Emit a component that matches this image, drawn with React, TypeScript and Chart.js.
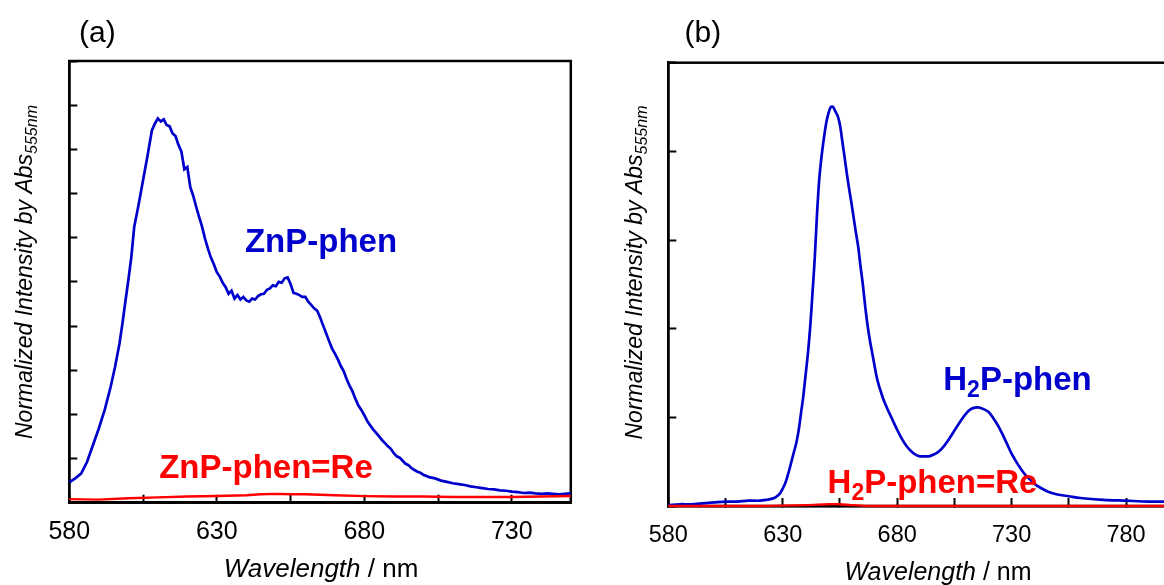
import React, { useEffect, useRef } from 'react';
import { Chart, registerables } from 'chart.js';

Chart.register(...registerables);

const FAMILY = '"Liberation Sans", Arial, Helvetica, sans-serif';
const BLUE = '#0000CC';
const RED = '#FF0000';

// ---------- Panel (a): ZnP-phen ----------
const znpWavelengths = [
  580, 582, 584, 586, 588, 590, 592, 594, 595.5, 597,
  598, 599, 600, 601, 602, 603.5, 605, 606.5, 608, 609,
  610, 611, 612, 613, 614, 615, 616, 617, 618, 619,
  620, 621, 622, 623, 624, 625, 626, 627, 628, 629,
  630, 631, 632, 633, 634, 635, 636, 637, 638, 639,
  640, 641, 642, 643, 644, 645, 646, 647, 648, 649,
  650, 651, 652, 653, 654, 655, 656, 657, 658, 659,
  660, 661, 662, 663, 664, 665, 666, 667, 668, 669,
  670, 671, 672, 673, 674, 675, 676, 677, 678, 679,
  680, 681, 682, 683, 684, 685, 686, 687, 688, 689,
  690, 691, 692, 693, 694, 695, 696, 697, 698, 699,
  700, 702, 704, 706, 708, 710, 712, 714, 716, 718,
  720, 722, 724, 726, 728, 730, 732, 734, 736, 738,
  740, 742, 744, 746, 748, 750,
];
const znpPhen = [
  0.46, 0.55, 0.66, 0.92, 1.30, 1.68, 2.10, 2.62, 3.07, 3.60,
  4.05, 4.55, 5.03, 5.55, 6.24, 6.75, 7.30, 7.85, 8.43, 8.58,
  8.70, 8.63, 8.68, 8.55, 8.52, 8.36, 8.30, 8.10, 7.95, 7.55,
  7.60, 7.15, 6.95, 6.70, 6.47, 6.25, 5.98, 5.75, 5.55, 5.40,
  5.22, 5.12, 4.98, 4.88, 4.73, 4.80, 4.62, 4.70, 4.60, 4.66,
  4.58, 4.55, 4.62, 4.60, 4.68, 4.72, 4.73, 4.82, 4.85, 4.92,
  4.90, 5.00, 4.98, 5.08, 5.10, 4.95, 4.75, 4.73, 4.70, 4.66,
  4.66, 4.55, 4.48, 4.40, 4.35, 4.20, 4.02, 3.85, 3.67, 3.50,
  3.38, 3.25, 3.10, 2.98, 2.80, 2.65, 2.52, 2.35, 2.20, 2.10,
  1.98, 1.85, 1.75, 1.66, 1.58, 1.50, 1.42, 1.35, 1.28, 1.22,
  1.12, 1.05, 1.02, 0.95, 0.88, 0.85, 0.78, 0.74, 0.70, 0.68,
  0.63, 0.58, 0.55, 0.50, 0.47, 0.44, 0.42, 0.40, 0.37, 0.35,
  0.33, 0.31, 0.30, 0.28, 0.27, 0.25, 0.24, 0.22, 0.23, 0.21,
  0.20, 0.21, 0.20, 0.19, 0.20, 0.21,
];
const znpReWavelengths = [580, 590, 600, 610, 620, 630, 640, 645, 650, 655, 660, 670, 680, 690, 700, 710, 720, 730, 740, 750];
const znpPhenRe = [0.08, 0.07, 0.10, 0.12, 0.14, 0.15, 0.17, 0.19, 0.20, 0.19, 0.19, 0.17, 0.15, 0.14, 0.14, 0.13, 0.13, 0.13, 0.14, 0.15];
const xTicksA = [580, 605, 630, 655, 680, 705, 730];

// ---------- Panel (b): H2P-phen ----------
const h2pWavelengths = [
  580, 585, 590, 595, 600, 605, 610, 615, 620, 623,
  625, 627, 629, 631, 632, 633, 634, 635, 636, 637,
  638, 639, 640, 641, 642, 643, 644, 645, 646, 647,
  648, 649, 650, 651, 652, 653, 654, 655, 656, 657,
  658, 659, 660, 661, 662, 663, 664, 665, 666, 667,
  668, 669, 670, 671, 672, 673, 674, 676, 678, 680,
  682, 684, 686, 688, 690, 692, 694, 696, 698, 700,
  702, 704, 706, 708, 710, 712, 714, 716, 718, 720,
  722, 724, 726, 728, 730, 732, 734, 736, 738, 740,
  743, 746, 750, 755, 760, 770, 780, 790, 800,
];
const h2pPhen = [
  0.01, 0.02, 0.02, 0.03, 0.04, 0.05, 0.05, 0.06, 0.06, 0.07,
  0.08, 0.10, 0.15, 0.25, 0.33, 0.42, 0.52, 0.62, 0.72, 0.86,
  1.05, 1.24, 1.48, 1.72, 2.02, 2.40, 2.80, 3.30, 3.70, 3.95,
  4.15, 4.32, 4.43, 4.50, 4.50, 4.45, 4.40, 4.30, 4.12, 3.94,
  3.75, 3.58, 3.42, 3.25, 3.08, 2.92, 2.70, 2.50, 2.26, 2.05,
  1.88, 1.74, 1.60, 1.46, 1.36, 1.28, 1.20, 1.08, 0.97, 0.86,
  0.76, 0.68, 0.62, 0.58, 0.56, 0.56, 0.56, 0.58, 0.61, 0.66,
  0.73, 0.81, 0.89, 0.97, 1.04, 1.09, 1.11, 1.11, 1.09, 1.06,
  0.99, 0.91, 0.81, 0.70, 0.59, 0.50, 0.42, 0.35, 0.30, 0.25,
  0.20, 0.16, 0.13, 0.11, 0.09, 0.07, 0.06, 0.05, 0.05,
];
const h2pReWavelengths = [580, 620, 640, 650, 655, 660, 670, 700, 800];
const h2pPhenRe = [0, 0, 0.01, 0.02, 0.02, 0.01, 0, 0, 0];
const xTicksB = [580, 605, 630, 655, 680, 705, 730, 755, 780];

const labelStart = 580;
const labelStep = 50;

type Run = { text: string; size: number; style?: string; dy?: number };

function fontOf(r: Run) {
  return `${r.style ? r.style + ' ' : ''}${r.size}px ${FAMILY}`;
}

function runsWidth(ctx: CanvasRenderingContext2D, runs: Run[]) {
  let w = 0;
  for (const r of runs) {
    ctx.font = fontOf(r);
    w += ctx.measureText(r.text).width;
  }
  return w;
}

function drawRuns(ctx: CanvasRenderingContext2D, runs: Run[], x: number, y: number, center: boolean, color: string) {
  const w = runsWidth(ctx, runs);
  let cx = center ? x - w / 2 : x;
  ctx.fillStyle = color;
  ctx.textAlign = 'left';
  ctx.textBaseline = 'alphabetic';
  for (const r of runs) {
    ctx.font = fontOf(r);
    ctx.fillText(r.text, cx, y + (r.dy || 0));
    cx += ctx.measureText(r.text).width;
  }
}

type Note = { runs: Run[]; x: number; y: number; color: string };
type Spec = {
  W: number;
  H: number;
  area: { left: number; top: number; right: number; bottom: number };
  xMin: number;
  xMax: number;
  yMax: number;
  xTicks: number[];
  tickSize: number;
  tickPad: number;
  label: { text: string; x: number; y: number };
  yTitle: { x: number; y: number };
  xTitle: { x: number; y: number; size: number };
  notes: Note[];
  blue: { xs: number[]; ys: number[] };
  red: { xs: number[]; ys: number[] };
  tension: number;
};

const specA: Spec = {
  W: 600,
  H: 585,
  area: { left: 69.3, top: 61, right: 570.8, bottom: 502.7 },
  xMin: 580,
  xMax: 750,
  yMax: 10,
  xTicks: xTicksA,
  tickSize: 25,
  tickPad: 22.3,
  label: { text: '(a)', x: 79, y: 41.7 },
  yTitle: { x: 32, y: 272 },
  xTitle: { x: 321, y: 577, size: 26 },
  notes: [
    { runs: [{ text: 'ZnP-phen', size: 33, style: 'bold' }], x: 321, y: 251.7, color: BLUE },
    { runs: [{ text: 'ZnP-phen=Re', size: 33, style: 'bold' }], x: 266, y: 478.3, color: RED },
  ],
  blue: { xs: znpWavelengths, ys: znpPhen },
  red: { xs: znpReWavelengths, ys: znpPhenRe },
  tension: 0,
};

const specB: Spec = {
  W: 600,
  H: 585,
  area: { left: 68.3, top: 62.7, right: 571.8, bottom: 506 },
  xMin: 580,
  xMax: 800,
  yMax: 5,
  xTicks: xTicksB,
  tickSize: 23.5,
  tickPad: 23.8,
  label: { text: '(b)', x: 84.5, y: 41.7 },
  yTitle: { x: 42, y: 272.5 },
  xTitle: { x: 338, y: 580, size: 25 },
  notes: [
    {
      runs: [
        { text: 'H', size: 33, style: 'bold' },
        { text: '2', size: 23, style: 'bold', dy: 7 },
        { text: 'P-phen', size: 33, style: 'bold' },
      ],
      x: 417.5,
      y: 390,
      color: BLUE,
    },
    {
      runs: [
        { text: 'H', size: 33, style: 'bold' },
        { text: '2', size: 23, style: 'bold', dy: 7 },
        { text: 'P-phen=Re', size: 33, style: 'bold' },
      ],
      x: 332.5,
      y: 493,
      color: RED,
    },
  ],
  blue: { xs: h2pWavelengths, ys: h2pPhen },
  red: { xs: h2pReWavelengths, ys: h2pPhenRe },
  tension: 0.3,
};

function pts(xs: number[], ys: number[]) {
  return xs.map((x, i) => ({ x, y: ys[i] }));
}

function buildChart(canvas: HTMLCanvasElement, s: Spec) {
  const axisCommon = {
    grid: {
      display: true,
      drawOnChartArea: false,
      drawTicks: true,
      tickLength: -8,
      tickWidth: 2,
      tickColor: '#000',
      color: '#000',
    },
    border: { display: true, color: '#000', width: 2.5 },
    title: { display: false },
  };

  const textPlugin = {
    id: 'figureText',
    beforeDatasetsDraw(chart: any) {
      const ctx: CanvasRenderingContext2D = chart.ctx;
      const { left, top, right, bottom } = chart.chartArea;
      ctx.save();
      ctx.strokeStyle = '#000';
      ctx.lineWidth = 2.5;
      ctx.strokeRect(left, top, right - left, bottom - top);
      ctx.restore();
    },
    afterDraw(chart: any) {
      const ctx: CanvasRenderingContext2D = chart.ctx;
      ctx.save();
      // panel label
      drawRuns(ctx, [{ text: s.label.text, size: 30 }], s.label.x, s.label.y, false, '#000');
      // x title
      drawRuns(
        ctx,
        [
          { text: 'Wavelength', size: s.xTitle.size, style: 'italic' },
          { text: ' / nm', size: s.xTitle.size },
        ],
        s.xTitle.x,
        s.xTitle.y,
        true,
        '#000'
      );
      // y title (rotated)
      ctx.save();
      ctx.translate(s.yTitle.x, s.yTitle.y);
      ctx.rotate(-Math.PI / 2);
      drawRuns(
        ctx,
        [
          { text: 'Normalized Intensity by Abs', size: 23, style: 'italic' },
          { text: '555nm', size: 16, style: 'italic', dy: 5 },
        ],
        0,
        0,
        true,
        '#000'
      );
      ctx.restore();
      // annotations
      for (const n of s.notes) drawRuns(ctx, n.runs, n.x, n.y, true, n.color);
      ctx.restore();
    },
  };

  return new Chart(canvas, {
    type: 'line',
    data: {
      datasets: [
        {
          data: pts(s.red.xs, s.red.ys),
          borderColor: RED,
          borderWidth: 2.4,
          pointRadius: 0,
          tension: s.tension,
          fill: false,
          clip: false,
        },
        {
          data: pts(s.blue.xs, s.blue.ys),
          borderColor: BLUE,
          borderWidth: 2.7,
          pointRadius: 0,
          tension: s.tension,
          fill: false,
          clip: false,
        },
      ],
    },
    options: {
      responsive: false,
      animation: false,
      devicePixelRatio: 1,
      events: [],
      layout: {
        padding: { left: 0, top: s.area.top, right: s.W - s.area.right, bottom: 0 },
      },
      plugins: {
        legend: { display: false },
        tooltip: { enabled: false },
      },
      scales: {
        x: {
          ...axisCommon,
          type: 'linear',
          position: 'bottom',
          min: s.xMin,
          max: s.xMax,
          afterBuildTicks: (scale: any) => {
            scale.ticks = s.xTicks.map((v) => ({ value: v }));
          },
          afterFit: (scale: any) => {
            scale.height = s.H - s.area.bottom;
          },
          ticks: {
            color: '#000',
            padding: s.tickPad,
            maxRotation: 0,
            autoSkip: false,
            font: { family: FAMILY, size: s.tickSize },
            callback: (v: any) => ((Number(v) - labelStart) % labelStep === 0 ? String(v) : ''),
          },
        },
        y: {
          ...axisCommon,
          type: 'linear',
          position: 'left',
          min: 0,
          max: s.yMax,
          afterFit: (scale: any) => {
            scale.width = s.area.left;
          },
          ticks: { display: false, stepSize: 1 },
        },
      },
    } as any,
    plugins: [textPlugin],
  });
}

function Panel({ spec, left }: { spec: Spec; left: number }) {
  const ref = useRef<HTMLCanvasElement | null>(null);
  useEffect(() => {
    if (!ref.current) return;
    const chart = buildChart(ref.current, spec);
    return () => chart.destroy();
  }, [spec]);
  return (
    <div style={{ position: 'absolute', left, top: 0, width: spec.W, height: spec.H }}>
      <canvas ref={ref} width={spec.W} height={spec.H} style={{ display: 'block' }} />
    </div>
  );
}

export default function App() {
  return (
    <div
      style={{
        position: 'absolute',
        left: 0,
        top: 0,
        width: 1164,
        height: 585,
        overflow: 'hidden',
        background: '#fff',
      }}
    >
      <Panel spec={specA} left={0} />
      <Panel spec={specB} left={600} />
    </div>
  );
}
